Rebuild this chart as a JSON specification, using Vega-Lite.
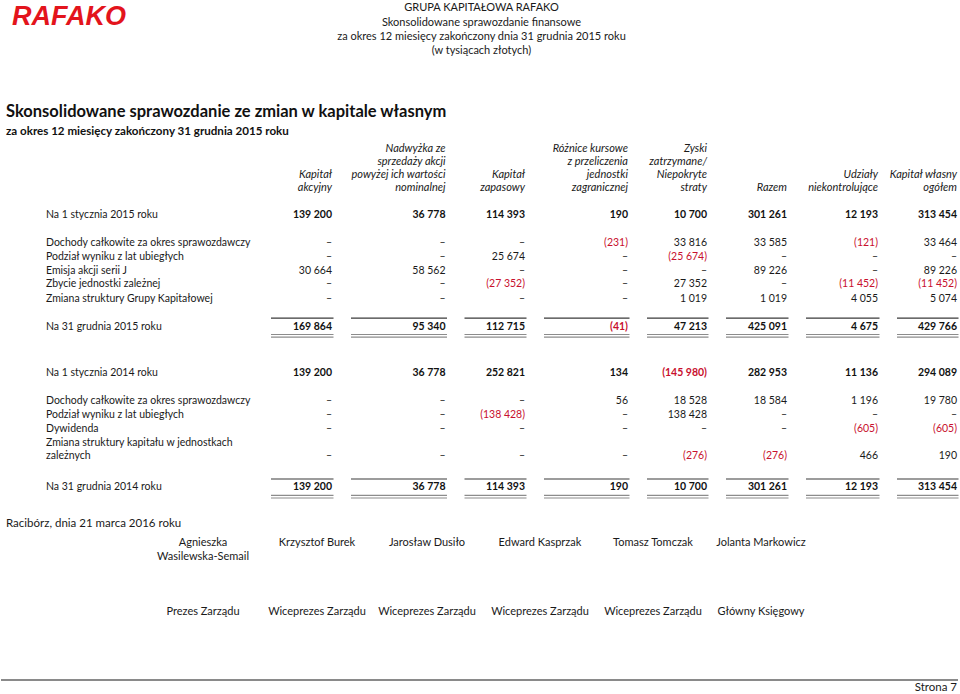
{
  "$schema": "https://vega.github.io/schema/vega-lite/v6.json",
  "width": 960,
  "height": 694,
  "autosize": {"type": "fit", "contains": "padding"},
  "padding": 0,
  "background": "white",
  "config": {
    "view": {"stroke": null},
    "axis": {"disable": true},
    "text": {"font": "Lato", "fontSize": 10.5, "color": "#1a1a1a"},
    "locale": {"number": {"decimal": ",", "thousands": " ", "grouping": [3], "currency": ["", " zł"]}}
  },
  "datasets": {
    "page": [
      {"slot": "center", "l": 0, "kind": "header", "t": "GRUPA KAPITAŁOWA RAFAKO"},
      {"slot": "left", "l": 1, "kind": "logo", "t": "RAFAKO"},
      {"slot": "center", "l": 2, "kind": "header", "t": "Skonsolidowane sprawozdanie finansowe"},
      {"slot": "center", "l": 3, "kind": "header", "t": "za okres 12 miesięcy zakończony dnia 31 grudnia 2015 roku"},
      {"slot": "center", "l": 4, "kind": "header", "t": "(w tysiącach złotych)"},
      {"slot": "left", "l": 5, "kind": "title", "t": "Skonsolidowane sprawozdanie ze zmian w kapitale własnym"},
      {"slot": "left", "l": 6, "kind": "subtitle", "t": "za okres 12 miesięcy zakończony 31 grudnia 2015 roku"},
      {"slot": "left", "l": 7, "kind": "place", "t": "Racibórz, dnia 21 marca 2016 roku"},
      {"slot": "right", "l": 9, "kind": "pageno", "t": "Strona 7"}
    ],
    "footer": [{"from": "left", "to": "right", "l": 8}],
    "colheads": [
      {"c": 1, "l": 2, "t": "Kapitał"}, {"c": 1, "l": 3, "t": "akcyjny"},
      {"c": 2, "l": 0, "t": "Nadwyżka ze"}, {"c": 2, "l": 1, "t": "sprzedaży akcji"}, {"c": 2, "l": 2, "t": "powyżej ich wartości"}, {"c": 2, "l": 3, "t": "nominalnej"},
      {"c": 3, "l": 2, "t": "Kapitał"}, {"c": 3, "l": 3, "t": "zapasowy"},
      {"c": 4, "l": 0, "t": "Różnice kursowe"}, {"c": 4, "l": 1, "t": "z przeliczenia"}, {"c": 4, "l": 2, "t": "jednostki"}, {"c": 4, "l": 3, "t": "zagranicznej"},
      {"c": 5, "l": 0, "t": "Zyski"}, {"c": 5, "l": 1, "t": "zatrzymane/"}, {"c": 5, "l": 2, "t": "Niepokryte"}, {"c": 5, "l": 3, "t": "straty"},
      {"c": 6, "l": 3, "t": "Razem"},
      {"c": 7, "l": 2, "t": "Udziały"}, {"c": 7, "l": 3, "t": "niekontrolujące"},
      {"c": 8, "l": 2, "t": "Kapitał własny"}, {"c": 8, "l": 3, "t": "ogółem"}
    ],
    "rows": [
      {"l": 4, "type": "opening", "label": "Na 1 stycznia 2015 roku", "c": [1,2,3,4,5,6,7,8], "v": [139200,36778,114393,190,10700,301261,12193,313454]},
      {"l": 5, "type": "movement", "label": "Dochody całkowite za okres sprawozdawczy", "c": [1,2,3,4,5,6,7,8], "v": [0,0,0,-231,33816,33585,-121,33464]},
      {"l": 6, "type": "movement", "label": "Podział wyniku z lat ubiegłych", "c": [1,2,3,4,5,6,7,8], "v": [0,0,25674,0,-25674,0,0,0]},
      {"l": 7, "type": "movement", "label": "Emisja akcji serii J", "c": [1,2,3,4,5,6,7,8], "v": [30664,58562,0,0,0,89226,0,89226]},
      {"l": 8, "type": "movement", "label": "Zbycie jednostki zależnej", "c": [1,2,3,4,5,6,7,8], "v": [0,0,-27352,0,27352,0,-11452,-11452]},
      {"l": 9, "type": "movement", "label": "Zmiana struktury Grupy Kapitałowej", "c": [1,2,3,4,5,6,7,8], "v": [0,0,0,0,1019,1019,4055,5074]},
      {"l": 10, "type": "closing", "label": "Na 31 grudnia 2015 roku", "c": [1,2,3,4,5,6,7,8], "v": [169864,95340,112715,-41,47213,425091,4675,429766]},
      {"l": 11, "type": "opening", "label": "Na 1 stycznia 2014 roku", "c": [1,2,3,4,5,6,7,8], "v": [139200,36778,252821,134,-145980,282953,11136,294089]},
      {"l": 12, "type": "movement", "label": "Dochody całkowite za okres sprawozdawczy", "c": [1,2,3,4,5,6,7,8], "v": [0,0,0,56,18528,18584,1196,19780]},
      {"l": 13, "type": "movement", "label": "Podział wyniku z lat ubiegłych", "c": [1,2,3,4,5,6,7,8], "v": [0,0,-138428,0,138428,0,0,0]},
      {"l": 14, "type": "movement", "label": "Dywidenda", "c": [1,2,3,4,5,6,7,8], "v": [0,0,0,0,0,0,-605,-605]},
      {"l": 15, "type": "movement", "label": "Zmiana struktury kapitału w jednostkach", "c": [], "v": []},
      {"l": 16, "type": "movement", "label": "zależnych", "c": [1,2,3,4,5,6,7,8], "v": [0,0,0,0,-276,-276,466,190]},
      {"l": 17, "type": "closing", "label": "Na 31 grudnia 2014 roku", "c": [1,2,3,4,5,6,7,8], "v": [139200,36778,114393,190,10700,301261,12193,313454]}
    ],
    "underlines": [
      {"l": 10, "c": [1,2,3,4,5,6,7,8], "prev": [0,1,2,3,4,5,6,7]},
      {"l": 17, "c": [1,2,3,4,5,6,7,8], "prev": [0,1,2,3,4,5,6,7]}
    ],
    "sign": [
      {"p": 0, "l": 0, "t": "Agnieszka"}, {"p": 0, "l": 1, "t": "Wasilewska-Semail"}, {"p": 0, "l": 2, "t": "Prezes Zarządu"},
      {"p": 1, "l": 0, "t": "Krzysztof Burek"}, {"p": 1, "l": 2, "t": "Wiceprezes Zarządu"},
      {"p": 2, "l": 0, "t": "Jarosław Dusiło"}, {"p": 2, "l": 2, "t": "Wiceprezes Zarządu"},
      {"p": 3, "l": 0, "t": "Edward Kasprzak"}, {"p": 3, "l": 2, "t": "Wiceprezes Zarządu"},
      {"p": 4, "l": 0, "t": "Tomasz Tomczak"}, {"p": 4, "l": 2, "t": "Wiceprezes Zarządu"},
      {"p": 5, "l": 0, "t": "Jolanta Markowicz"}, {"p": 5, "l": 2, "t": "Główny Księgowy"}
    ]
  },
  "layer": [
    {
      "data": {"name": "page"},
      "layer": [
        {
          "transform": [{"filter": "datum.kind === 'header'"}],
          "mark": {"type": "text", "align": "center", "baseline": "middle", "fontSize": 11},
          "encoding": {
            "x": {"field": "slot", "type": "nominal", "scale": {"type": "point", "domain": ["left", "center", "right"], "range": [5, 956], "padding": 0}, "axis": null},
            "y": {"field": "l", "type": "quantitative", "scale": {"domain": [0,1,2,3,4,5,6,7,8,9], "range": [8,17,22.5,37,51,112,132,524,680,688], "zero": false, "nice": false}, "axis": null},
            "text": {"field": "t"}
          }
        },
        {
          "transform": [{"filter": "datum.kind === 'logo'"}],
          "mark": {"type": "text", "align": "left", "baseline": "middle", "font": "Liberation Sans", "fontSize": 27, "fontWeight": "bold", "fontStyle": "italic", "color": "#e3141c", "xOffset": 6},
          "encoding": {
            "x": {"field": "slot", "type": "nominal", "axis": null},
            "y": {"field": "l", "type": "quantitative", "axis": null},
            "text": {"field": "t"}
          }
        },
        {
          "transform": [{"filter": "datum.kind === 'title'"}],
          "mark": {"type": "text", "align": "left", "baseline": "middle", "fontSize": 16.5, "fontWeight": "bold", "color": "#111111"},
          "encoding": {
            "x": {"field": "slot", "type": "nominal", "axis": null},
            "y": {"field": "l", "type": "quantitative", "axis": null},
            "text": {"field": "t"}
          }
        },
        {
          "transform": [{"filter": "datum.kind === 'subtitle'"}],
          "mark": {"type": "text", "align": "left", "baseline": "middle", "fontSize": 11.6, "fontWeight": "bold", "color": "#111111"},
          "encoding": {
            "x": {"field": "slot", "type": "nominal", "axis": null},
            "y": {"field": "l", "type": "quantitative", "axis": null},
            "text": {"field": "t"}
          }
        },
        {
          "transform": [{"filter": "datum.kind === 'place'"}],
          "mark": {"type": "text", "align": "left", "baseline": "middle", "fontSize": 11.5},
          "encoding": {
            "x": {"field": "slot", "type": "nominal", "axis": null},
            "y": {"field": "l", "type": "quantitative", "axis": null},
            "text": {"field": "t"}
          }
        },
        {
          "transform": [{"filter": "datum.kind === 'pageno'"}],
          "mark": {"type": "text", "align": "right", "baseline": "middle", "fontSize": 11.5},
          "encoding": {
            "x": {"field": "slot", "type": "nominal", "axis": null},
            "y": {"field": "l", "type": "quantitative", "axis": null},
            "text": {"field": "t"}
          }
        },
        {
          "data": {"name": "footer"},
          "mark": {"type": "rule", "color": "#8a8a8a", "strokeWidth": 2, "xOffset": -5, "x2Offset": 1},
          "encoding": {
            "x": {"field": "from", "type": "nominal", "axis": null},
            "x2": {"field": "to"},
            "y": {"field": "l", "type": "quantitative", "axis": null}
          }
        }
      ]
    },
    {
      "layer": [
        {
          "data": {"name": "rows"},
          "mark": {"type": "text", "align": "left", "baseline": "middle"},
          "encoding": {
            "x": {"datum": -1, "type": "quantitative", "scale": {"domain": [-1,0,1,2,3,4,5,6,7,8], "range": [45,251,331,444.5,524,627,706,786,877,956], "zero": false, "nice": false}, "axis": null},
            "y": {"field": "l", "type": "quantitative", "scale": {"domain": [0,1,2,3,4,5,6,7,8,9,10,11,12,13,14,15,16,17], "range": [149,162,175,188,215,243,256.5,270.5,284,298.5,326.5,373.3,401,415,428.5,442.5,456,487.3], "zero": false, "nice": false}, "axis": null},
            "text": {"field": "label"}
          }
        },
        {
          "data": {"name": "colheads"},
          "mark": {"type": "text", "align": "right", "baseline": "middle", "fontStyle": "italic", "fontSize": 11},
          "encoding": {
            "x": {"field": "c", "type": "quantitative", "axis": null},
            "y": {"field": "l", "type": "quantitative", "axis": null},
            "text": {"field": "t"}
          }
        },
        {
          "data": {"name": "rows"},
          "transform": [{"flatten": ["c", "v"]}, {"filter": "datum.type === 'movement'"}],
          "mark": {"type": "text", "align": "right", "baseline": "middle"},
          "encoding": {
            "x": {"field": "c", "type": "quantitative", "axis": null},
            "y": {"field": "l", "type": "quantitative", "axis": null},
            "text": {"condition": {"test": "datum.v === 0", "value": "–"}, "field": "v", "type": "quantitative", "format": "(,.0f"},
            "color": {"condition": {"test": "datum.v < 0", "value": "#c8102e"}, "value": "#1a1a1a"}
          }
        },
        {
          "data": {"name": "rows"},
          "transform": [{"flatten": ["c", "v"]}, {"filter": "datum.type !== 'movement'"}],
          "mark": {"type": "text", "align": "right", "baseline": "middle", "fontWeight": "bold"},
          "encoding": {
            "x": {"field": "c", "type": "quantitative", "axis": null},
            "y": {"field": "l", "type": "quantitative", "axis": null},
            "text": {"condition": {"test": "datum.v === 0", "value": "–"}, "field": "v", "type": "quantitative", "format": "(,.0f"},
            "color": {"condition": {"test": "datum.v < 0", "value": "#c8102e"}, "value": "#111111"}
          }
        },
        {
          "data": {"name": "underlines"},
          "transform": [{"flatten": ["c", "prev"]}],
          "mark": {"type": "rule", "color": "#3a3a3a", "strokeWidth": 1.2, "yOffset": -8.3, "xOffset": 1.5, "x2Offset": 19},
          "encoding": {
            "x": {"field": "c", "type": "quantitative", "axis": null},
            "x2": {"field": "prev"},
            "y": {"field": "l", "type": "quantitative", "axis": null}
          }
        },
        {
          "data": {"name": "underlines"},
          "transform": [{"flatten": ["c", "prev"]}],
          "mark": {"type": "rule", "color": "#8c8c8c", "strokeWidth": 1.2, "yOffset": 8, "xOffset": 1.5, "x2Offset": 19},
          "encoding": {
            "x": {"field": "c", "type": "quantitative", "axis": null},
            "x2": {"field": "prev"},
            "y": {"field": "l", "type": "quantitative", "axis": null}
          }
        },
        {
          "data": {"name": "underlines"},
          "transform": [{"flatten": ["c", "prev"]}],
          "mark": {"type": "rule", "color": "#8c8c8c", "strokeWidth": 1.2, "yOffset": 10.7, "xOffset": 1.5, "x2Offset": 19},
          "encoding": {
            "x": {"field": "c", "type": "quantitative", "axis": null},
            "x2": {"field": "prev"},
            "y": {"field": "l", "type": "quantitative", "axis": null}
          }
        }
      ]
    },
    {
      "data": {"name": "sign"},
      "mark": {"type": "text", "align": "center", "baseline": "middle", "fontSize": 11},
      "encoding": {
        "x": {"field": "p", "type": "quantitative", "scale": {"domain": [0,1,2,3,4,5], "range": [202,316,426,539,652,760], "zero": false, "nice": false}, "axis": null},
        "y": {"field": "l", "type": "quantitative", "scale": {"domain": [0,1,2], "range": [543,556.5,612], "zero": false, "nice": false}, "axis": null},
        "text": {"field": "t"}
      }
    }
  ],
  "resolve": {"scale": {"x": "independent", "y": "independent"}}
}
